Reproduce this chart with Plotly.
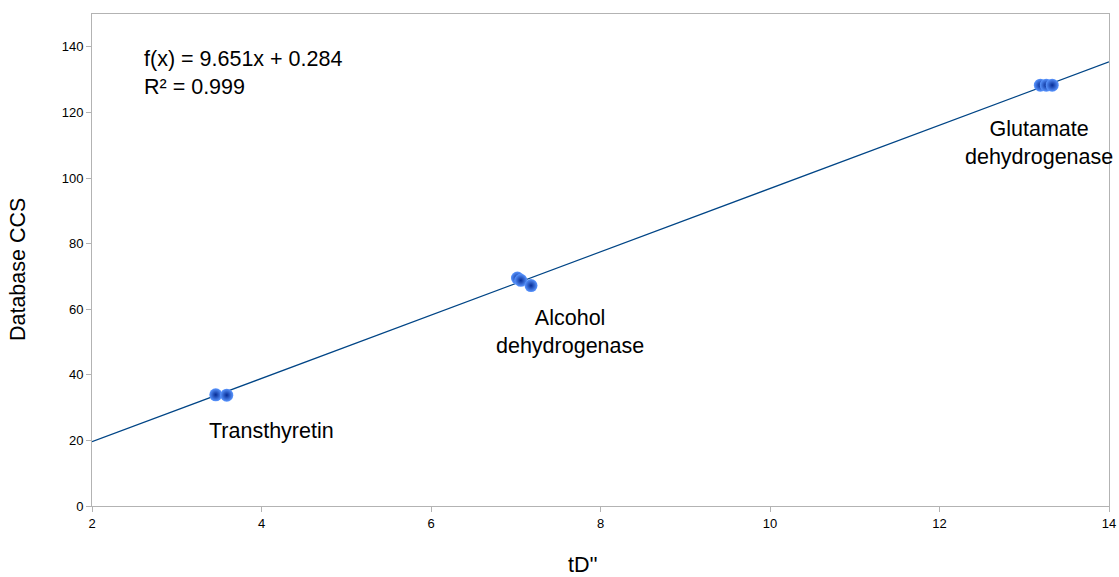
import plotly.graph_objects as go

# data
td_values = [3.46, 3.59, 7.02, 7.06, 7.18, 13.19, 13.26, 13.33]
ccs_values = [33.9, 33.8, 69.5, 68.8, 67.2, 128.3, 128.3, 128.3]
slope = 9.651
intercept = 0.284
r2 = 0.999
x_range = [2, 14]
y_range = [0, 150]
x_ticks = [2, 4, 6, 8, 10, 12, 14]
y_ticks = [0, 20, 40, 60, 80, 100, 120, 140]
protein_labels = ["Transthyretin", "Alcohol<br>dehydrogenase", "Glutamate<br>dehydrogenase"]
label_x = [4.12, 7.64, 13.17]
label_y = [22.9, 52.9, 110.7]

font = "Liberation Sans, Arial, sans-serif"
big = 21.5

fig = go.Figure()
fig.add_trace(go.Scatter(
    x=x_range, y=[slope * v + intercept for v in x_range],
    mode="lines", line=dict(color="#004586", width=1.2),
    hoverinfo="skip", showlegend=False))
fig.add_trace(go.Scatter(
    x=td_values, y=ccs_values, mode="markers",
    marker=dict(size=13, color="#5a96ff",
                gradient=dict(type="radial", color="#062c96"),
                line=dict(width=0)),
    showlegend=False))

for t, lx, ly in zip(protein_labels, label_x, label_y):
    fig.add_annotation(x=lx, y=ly, text=t, showarrow=False,
                       font=dict(size=big, color="#000", family=font),
                       xanchor="center", yanchor="middle")

fig.add_annotation(xref="paper", yref="paper", x=0.0495, y=0.937,
                   text=f"f(x) = {slope}x + {intercept}<br>R² = {r2}",
                   showarrow=False, align="left", xanchor="left", yanchor="top",
                   font=dict(size=big, color="#000", family=font))

# axis titles placed as annotations
fig.add_annotation(xref="paper", yref="paper", x=0.483, y=-0.119,
                   text="tD''", showarrow=False, xanchor="center", yanchor="middle",
                   font=dict(size=big, color="#000", family=font))
fig.add_annotation(xref="paper", yref="paper", x=-0.0727, y=0.4797,
                   text="Database CCS", showarrow=False, textangle=-90,
                   xanchor="center", yanchor="middle",
                   font=dict(size=big, color="#000", family=font))

axis_common = dict(showgrid=False, zeroline=False, showline=True, mirror=True,
                   linecolor="#b3b3b3", linewidth=1, ticks="outside",
                   ticklen=5, tickcolor="#b3b3b3", automargin=False,
                   tickfont=dict(size=13, color="#000", family=font))
fig.update_xaxes(range=x_range, tickvals=x_ticks, **axis_common)
fig.update_yaxes(range=y_range, tickvals=y_ticks, **axis_common)

fig.update_layout(width=1119, height=577, margin=dict(l=92, r=10, t=14, b=71),
                  plot_bgcolor="white", paper_bgcolor="white",
                  font=dict(family=font))
fig.write_html("out.html")
